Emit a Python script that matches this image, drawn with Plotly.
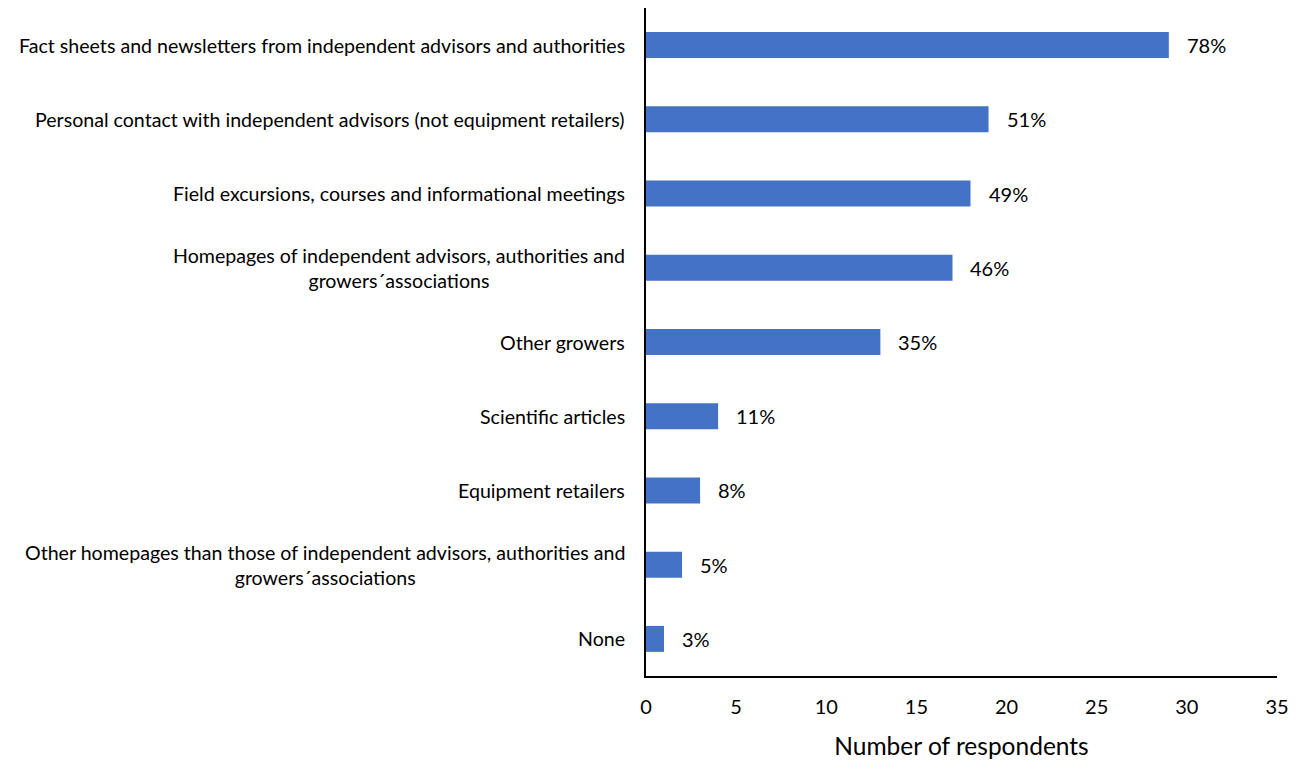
import plotly.graph_objects as go

categories = [
    "Fact sheets and newsletters from independent advisors and authorities",
    "Personal contact with independent advisors (not equipment retailers)",
    "Field excursions, courses and informational meetings",
    "Homepages of independent advisors, authorities and<br>growers´associations",
    "Other growers",
    "Scientific articles",
    "Equipment retailers",
    "Other homepages than those of independent advisors, authorities and<br>growers´associations",
    "None",
]
respondents = [29, 19, 18, 17, 13, 4, 3, 2, 1]
percent_labels = ["78%", "51%", "49%", "46%", "35%", "11%", "8%", "5%", "3%"]
x_ticks = [0, 5, 10, 15, 20, 25, 30, 35]
x_title = "Number of respondents"

FONT = "Lato"
BAR_COLOR = "#4472C4"

fig = go.Figure()
fig.add_trace(go.Bar(
    x=respondents,
    y=categories,
    orientation="h",
    marker=dict(color=BAR_COLOR, line=dict(width=0)),
    hoverinfo="skip",
))

annotations = []
for cat, val, pct in zip(categories, respondents, percent_labels):
    annotations.append(dict(
        x=val, y=cat, xref="x", yref="y", text=pct, showarrow=False,
        xanchor="left", yanchor="middle", xshift=16,
        font=dict(family=FONT, size=20, color="black"),
    ))
    annotations.append(dict(
        x=0, y=cat, xref="paper", yref="y", text=cat, showarrow=False,
        xanchor="right", yanchor="middle", xshift=-19, align="center",
        font=dict(family=FONT, size=19.6, color="black"),
    ))

fig.update_layout(
    width=1298, height=754,
    margin=dict(l=638, r=29, t=0, b=86),
    paper_bgcolor="white", plot_bgcolor="white",
    showlegend=False,
    bargap=0.65,
    font=dict(family=FONT, color="black"),
    annotations=annotations,
    xaxis=dict(
        range=[0, 35], tickvals=x_ticks, showgrid=False, zeroline=False,
        showline=True, linecolor="black", linewidth=2,
        ticks="", ticklabelstandoff=12,
        tickfont=dict(family=FONT, size=20, color="black"),
        title=dict(text=x_title, font=dict(family=FONT, size=24.5, color="black"), standoff=21),
    ),
    yaxis=dict(
        autorange="reversed", showticklabels=False, showgrid=False,
        zeroline=False, showline=True, linecolor="black", linewidth=2, ticks="",
    ),
)

fig.write_html("out.html")
